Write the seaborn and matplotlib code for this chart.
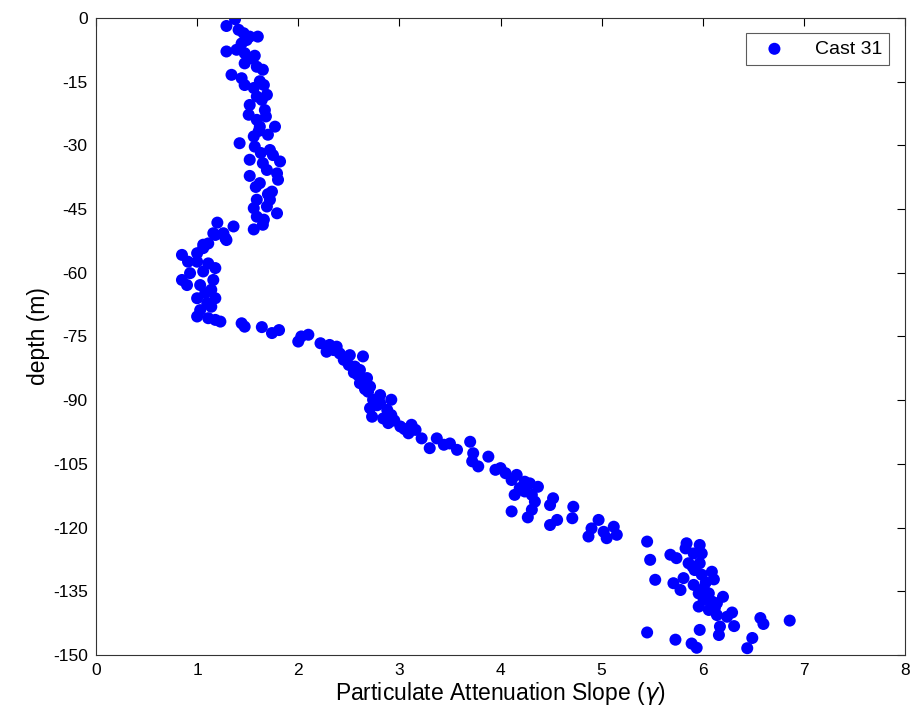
import matplotlib
matplotlib.use("Agg")
import matplotlib.pyplot as plt
import seaborn as sns
import pandas as pd

slope = [
    1.375, 1.29, 1.41, 1.46, 1.60, 1.52, 1.44, 1.29, 1.39, 1.47, 1.57, 1.47, 1.59, 1.65,
    1.34, 1.44, 1.47, 1.66, 1.56, 1.69, 1.59, 1.52, 1.67, 1.51, 1.59, 1.62, 1.77, 1.70,
    1.56, 1.42, 1.57, 1.72, 1.75, 1.82, 1.52, 1.65, 1.69, 1.52, 1.79, 1.80, 1.62, 1.74,
    1.59, 1.72, 1.56, 1.69, 1.79, 1.59, 1.65, 1.56, 1.20, 1.36, 1.16, 1.28, 1.06,
    1.26, 1.18, 1.29, 1.11, 1.06, 1.00, 0.85, 0.91, 1.00, 1.11, 1.18, 1.06, 0.93, 0.85,
    0.90, 1.16, 1.03, 1.14, 1.08, 1.18, 1.00, 1.10, 1.14, 1.03, 1.00, 1.11, 1.18, 1.23,
    1.44, 1.47, 1.64, 1.74, 1.81, 2.00, 2.03, 2.10, 2.22, 2.28, 2.31, 2.38, 2.41, 2.51,
    2.64, 2.50, 2.56, 2.61, 2.59, 2.68, 2.61, 2.71, 2.69, 2.81, 2.74, 2.92, 2.81, 2.71,
    2.88, 2.73, 2.84, 2.92, 2.89, 3.01, 3.12, 3.09, 3.16, 3.22, 3.30, 3.37, 3.44, 3.50,
    3.57, 3.70, 3.73, 3.72, 3.78, 3.88, 3.95, 4.05, 4.11, 4.16, 4.24, 4.29, 4.37, 4.19,
    4.14, 4.24, 4.31, 4.34, 4.52, 4.49, 4.72, 4.11, 4.31, 4.27, 4.49, 4.56, 4.71, 4.97,
    4.90, 4.87, 5.02, 5.12, 5.05, 5.15, 5.45, 5.48, 5.53, 5.68, 5.74, 5.84, 5.83, 5.91,
    5.97, 5.99, 5.86, 5.97, 5.92, 5.99, 6.09, 6.11, 5.81, 5.71, 5.78, 5.91, 6.01, 5.96,
    6.06, 6.20, 6.01, 6.09, 6.14, 5.96, 6.06, 6.14, 6.24, 6.29, 6.31, 6.57, 6.60, 6.86,
    6.17, 6.16, 5.97, 5.45, 5.73, 6.49, 6.44, 5.89, 5.94,
    1.49, 1.55, 1.62, 1.64, 1.68, 1.63, 1.58, 1.70, 1.66, 1.61, 2.35, 2.45, 2.55, 2.66,
    2.78, 2.95, 3.05, 4.00, 4.20, 5.90, 6.03, 6.12,
]

depth = [
    -0.3, -1.9, -2.8, -3.6, -4.4, -4.4, -6.0, -7.9, -7.5, -8.3, -8.9, -10.7, -11.5, -12.2,
    -13.4, -14.2, -15.8, -15.8, -16.5, -18.1, -18.5, -20.5, -21.7, -22.8, -24.0, -25.6, -25.6, -27.5,
    -27.9, -29.5, -30.3, -31.1, -32.3, -33.8, -33.4, -34.2, -35.8, -37.2, -36.6, -38.1, -38.9, -40.9,
    -42.8, -42.8, -44.8, -44.4, -46.0, -46.8, -48.7, -49.8, -48.2, -49.1, -50.7, -51.9, -53.4,
    -50.7, -51.1, -52.3, -53.1, -54.2, -55.4, -55.8, -57.4, -57.4, -57.8, -58.9, -59.7, -60.1, -61.7,
    -62.9, -61.7, -62.9, -64.0, -64.8, -66.0, -66.0, -67.2, -68.0, -68.8, -70.3, -70.7, -71.1, -71.5,
    -71.9, -72.7, -72.8, -74.2, -73.5, -76.2, -75.0, -74.6, -76.6, -78.6, -77.0, -77.4, -79.0, -79.4,
    -79.7, -81.7, -82.1, -82.9, -84.1, -84.8, -86.0, -86.8, -88.0, -88.8, -89.9, -89.9, -90.7, -91.9,
    -92.3, -93.9, -94.3, -93.5, -95.4, -96.2, -95.8, -97.8, -97.0, -99.0, -101.3, -99.0, -100.5, -100.2,
    -101.7, -99.8, -102.5, -104.4, -105.6, -103.3, -106.4, -107.2, -108.8, -107.6, -109.2, -109.6, -110.4, -110.7,
    -112.3, -111.5, -112.3, -113.9, -113.1, -114.7, -115.1, -116.2, -115.8, -117.6, -119.4, -118.2, -117.8, -118.2,
    -120.2, -122.1, -121.0, -119.8, -122.5, -121.7, -123.3, -127.6, -132.3, -126.4, -127.2, -123.7, -124.9, -126.1,
    -124.1, -126.1, -128.4, -128.4, -130.0, -131.1, -130.4, -132.2, -131.9, -133.1, -134.7, -133.5, -134.3, -135.5,
    -135.5, -136.3, -137.0, -137.4, -137.8, -138.6, -139.4, -140.6, -141.0, -140.0, -143.2, -141.3, -142.7, -141.9,
    -143.3, -145.3, -144.1, -144.7, -146.4, -146.0, -148.4, -147.3, -148.3,
    -5.2, -9.6, -14.9, -19.3, -23.2, -31.8, -39.8, -41.5, -47.5, -26.6, -78.2, -80.5, -83.5, -87.4,
    -91.2, -94.8, -96.8, -106.0, -111.0, -129.2, -132.9, -138.9,
]

df = pd.DataFrame({"slope": slope, "depth": depth})

sns.set_theme(style="white")
plt.rcParams['font.family'] = ['Liberation Sans', 'DejaVu Sans']
plt.rcParams['axes.unicode_minus'] = False
plt.rcParams['text.color'] = 'black'
plt.rcParams['axes.labelcolor'] = 'black'

fig = plt.figure(figsize=(9.1, 7.17), dpi=100)
ax = fig.add_axes([0.1055, 0.0865, 0.889, 0.8885])

sns.scatterplot(data=df, x="slope", y="depth", ax=ax, color="#0000FF",
                edgecolor="none", s=75, label="Cast 31")

ax.set_xlim(0, 8)
ax.set_ylim(-150, 0)
ax.set_xticks(range(0, 9))
ax.set_yticks(list(range(-150, 1, 15)))
ax.tick_params(direction="in", top=True, right=True, length=6, width=0.8,
               labelsize=12.5, colors="black", pad=6)
for sp in ax.spines.values():
    sp.set_color("#333333")
    sp.set_linewidth(0.8)

ax.set_xlabel(r"Particulate Attenuation Slope ($\gamma$)", fontsize=16.5, labelpad=1)
ax.set_ylabel("depth (m)", fontsize=16.5, labelpad=2)

leg = ax.legend(loc="upper right", fontsize=14, frameon=True, fancybox=False,
                borderpad=0.35, handletextpad=1.0, borderaxespad=0.8,
                handlelength=2.2)
leg.get_frame().set_edgecolor("#333333")
leg.get_frame().set_linewidth(0.8)

fig.savefig("out.png", dpi=100)
